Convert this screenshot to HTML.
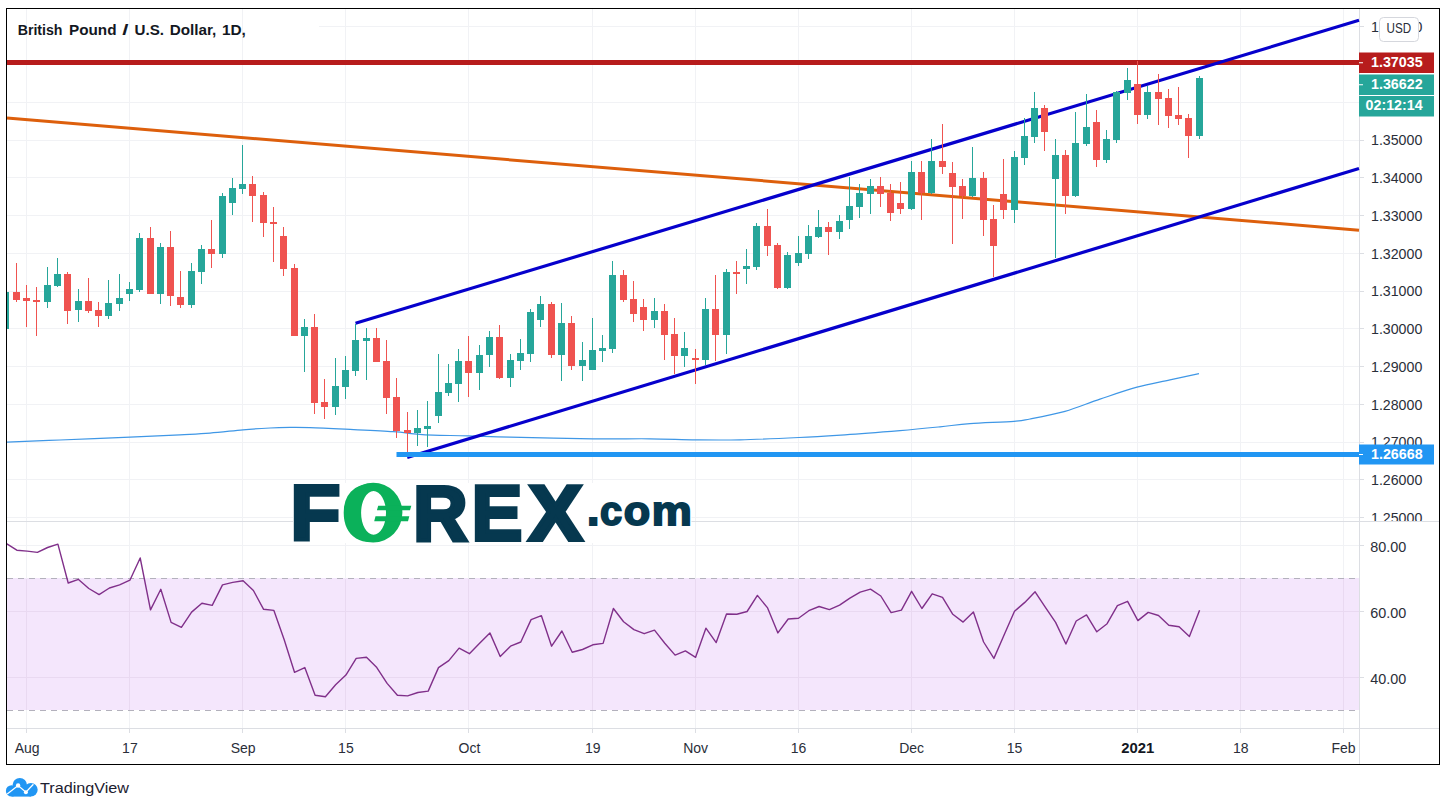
<!DOCTYPE html>
<html lang="en"><head><meta charset="utf-8"><title>GBP/USD Daily Chart</title>
<style>html,body{margin:0;padding:0;background:#fff}svg{display:block}</style></head>
<body>
<svg width="1448" height="811" viewBox="0 0 1448 811" font-family="'Liberation Sans', sans-serif">
<rect width="1448" height="811" fill="#fff"/>
<rect x="7" y="578" width="1352" height="132" fill="#f4e6fc"/>
<g fill="#f1f2f5">
<rect x="26" y="9" width="1" height="719"/>
<rect x="129" y="9" width="1" height="719"/>
<rect x="242" y="9" width="1" height="719"/>
<rect x="345" y="9" width="1" height="719"/>
<rect x="468" y="9" width="1" height="719"/>
<rect x="592" y="9" width="1" height="719"/>
<rect x="695" y="9" width="1" height="719"/>
<rect x="798" y="9" width="1" height="719"/>
<rect x="911" y="9" width="1" height="719"/>
<rect x="1014" y="9" width="1" height="719"/>
<rect x="1137" y="9" width="1" height="719"/>
<rect x="1240" y="9" width="1" height="719"/>
<rect x="1343" y="9" width="1" height="719"/>
<rect x="7" y="517" width="1352" height="1"/>
<rect x="7" y="479" width="1352" height="1"/>
<rect x="7" y="442" width="1352" height="1"/>
<rect x="7" y="404" width="1352" height="1"/>
<rect x="7" y="366" width="1352" height="1"/>
<rect x="7" y="328" width="1352" height="1"/>
<rect x="7" y="291" width="1352" height="1"/>
<rect x="7" y="253" width="1352" height="1"/>
<rect x="7" y="215" width="1352" height="1"/>
<rect x="7" y="177" width="1352" height="1"/>
<rect x="7" y="140" width="1352" height="1"/>
<rect x="7" y="102" width="1352" height="1"/>
<rect x="7" y="64" width="1352" height="1"/>
<rect x="319" y="26" width="1040" height="1"/>
<rect x="7" y="545" width="1352" height="1"/>
<rect x="7" y="611" width="1352" height="1"/>
<rect x="7" y="677" width="1352" height="1"/>
</g>
<g fill="#e9d9f1">
<rect x="26" y="579" width="1" height="131"/>
<rect x="129" y="579" width="1" height="131"/>
<rect x="242" y="579" width="1" height="131"/>
<rect x="345" y="579" width="1" height="131"/>
<rect x="468" y="579" width="1" height="131"/>
<rect x="592" y="579" width="1" height="131"/>
<rect x="695" y="579" width="1" height="131"/>
<rect x="798" y="579" width="1" height="131"/>
<rect x="911" y="579" width="1" height="131"/>
<rect x="1014" y="579" width="1" height="131"/>
<rect x="1137" y="579" width="1" height="131"/>
<rect x="1240" y="579" width="1" height="131"/>
<rect x="1343" y="579" width="1" height="131"/>
<rect x="7" y="611" width="1352" height="1"/>
<rect x="7" y="677" width="1352" height="1"/>
</g>
<rect x="7" y="521" width="1432" height="1" fill="#dcdee3"/>
<rect x="7" y="728" width="1432" height="1" fill="#dcdee3"/>
<rect x="1359" y="9" width="1" height="755" fill="#dcdee3"/>
<g fill="#dcdee3">
<rect x="26" y="729" width="1" height="4"/>
<rect x="129" y="729" width="1" height="4"/>
<rect x="242" y="729" width="1" height="4"/>
<rect x="345" y="729" width="1" height="4"/>
<rect x="468" y="729" width="1" height="4"/>
<rect x="592" y="729" width="1" height="4"/>
<rect x="695" y="729" width="1" height="4"/>
<rect x="798" y="729" width="1" height="4"/>
<rect x="911" y="729" width="1" height="4"/>
<rect x="1014" y="729" width="1" height="4"/>
<rect x="1137" y="729" width="1" height="4"/>
<rect x="1240" y="729" width="1" height="4"/>
<rect x="1343" y="729" width="1" height="4"/>
<rect x="1360" y="517" width="4" height="1"/>
<rect x="1360" y="479" width="4" height="1"/>
<rect x="1360" y="442" width="4" height="1"/>
<rect x="1360" y="404" width="4" height="1"/>
<rect x="1360" y="366" width="4" height="1"/>
<rect x="1360" y="328" width="4" height="1"/>
<rect x="1360" y="291" width="4" height="1"/>
<rect x="1360" y="253" width="4" height="1"/>
<rect x="1360" y="215" width="4" height="1"/>
<rect x="1360" y="177" width="4" height="1"/>
<rect x="1360" y="140" width="4" height="1"/>
<rect x="1360" y="102" width="4" height="1"/>
<rect x="1360" y="64" width="4" height="1"/>
<rect x="1360" y="26" width="4" height="1"/>
<rect x="1360" y="545" width="4" height="1"/>
<rect x="1360" y="611" width="4" height="1"/>
<rect x="1360" y="677" width="4" height="1"/>
</g>
<path d="M7 578.5H1359M7 710.5H1359" stroke="#b3b1bc" stroke-width="1" stroke-dasharray="6 5" fill="none"/>
<path fill="none" stroke="#3f97e6" stroke-width="1.2" d="M7,442.1C15.8,441.8 39.5,440.8 60,440C80.5,439.2 110.0,438.0 130,437.1C150.0,436.2 166.7,435.5 180,434.8C193.3,434.1 199.5,433.9 210,433.1C220.5,432.3 233.0,430.7 243,429.8C253.0,428.9 262.2,428.4 270,428C277.8,427.6 283.3,427.5 290,427.4C296.7,427.3 300.8,427.3 310,427.6C319.2,427.9 331.2,428.5 345,429.2C358.8,429.9 381.5,430.9 393,431.7C404.5,432.5 407.3,433.2 414,433.8C420.7,434.4 424.0,434.8 433,435.1C442.0,435.5 455.2,435.5 468,435.9C480.8,436.2 489.2,436.7 510,437.2C530.8,437.7 569.7,438.5 593,438.8C616.3,439.1 632.8,438.6 650,438.8C667.2,439.0 681.0,439.6 696,439.8C711.0,440.0 722.8,440.2 740,439.8C757.2,439.4 781.5,438.3 799,437.5C816.5,436.7 828.2,435.9 845,434.8C861.8,433.7 884.2,431.9 900,430.6C915.8,429.3 928.3,428.0 940,426.8C951.7,425.6 957.7,424.5 970,423.6C982.3,422.7 1004.0,422.1 1014,421.3C1024.0,420.5 1021.5,420.6 1030,419C1038.5,417.4 1053.3,414.7 1065,411.4C1076.7,408.1 1088.0,403.1 1100,399.1C1112.0,395.1 1125.3,390.4 1137,387.2C1148.7,384.0 1159.7,382.2 1170,379.9C1180.3,377.6 1194.2,374.7 1199,373.6"/>
<line x1="7" y1="62.5" x2="1359" y2="62.5" stroke="#b71c1c" stroke-width="5"/>
<line x1="7" y1="118.1" x2="1359" y2="230.2" stroke="#dd5f0c" stroke-width="3"/>
<line x1="355.5" y1="323.2" x2="1359" y2="20.3" stroke="#0600cc" stroke-width="3.2"/>
<line x1="407.2" y1="457.5" x2="1359" y2="168.5" stroke="#0600cc" stroke-width="3.2"/>
<line x1="396.5" y1="454.5" x2="1359" y2="454.5" stroke="#2196f3" stroke-width="5"/>
<rect x="7" y="292" width="2" height="37" fill="#26a69a"/>
<rect x="16" y="263" width="1" height="39" fill="#ef5350"/>
<rect x="13" y="292" width="7" height="8" fill="#ef5350"/>
<rect x="26" y="285" width="1" height="42" fill="#ef5350"/>
<rect x="23" y="298" width="7" height="3" fill="#ef5350"/>
<rect x="36" y="287" width="1" height="49" fill="#ef5350"/>
<rect x="33" y="300" width="7" height="2" fill="#ef5350"/>
<rect x="47" y="267" width="1" height="41" fill="#26a69a"/>
<rect x="44" y="285" width="7" height="17" fill="#26a69a"/>
<rect x="57" y="258" width="1" height="29" fill="#26a69a"/>
<rect x="54" y="274" width="7" height="12" fill="#26a69a"/>
<rect x="67" y="272" width="1" height="52" fill="#ef5350"/>
<rect x="64" y="274" width="7" height="37" fill="#ef5350"/>
<rect x="78" y="289" width="1" height="33" fill="#26a69a"/>
<rect x="75" y="301" width="7" height="9" fill="#26a69a"/>
<rect x="88" y="278" width="1" height="35" fill="#ef5350"/>
<rect x="85" y="301" width="7" height="10" fill="#ef5350"/>
<rect x="98" y="302" width="1" height="25" fill="#ef5350"/>
<rect x="95" y="310" width="7" height="6" fill="#ef5350"/>
<rect x="108" y="280" width="1" height="39" fill="#26a69a"/>
<rect x="105" y="303" width="7" height="13" fill="#26a69a"/>
<rect x="119" y="274" width="1" height="37" fill="#26a69a"/>
<rect x="116" y="298" width="7" height="6" fill="#26a69a"/>
<rect x="129" y="282" width="1" height="19" fill="#26a69a"/>
<rect x="126" y="289" width="7" height="5" fill="#26a69a"/>
<rect x="139" y="233" width="1" height="59" fill="#26a69a"/>
<rect x="136" y="238" width="7" height="52" fill="#26a69a"/>
<rect x="150" y="227" width="1" height="67" fill="#ef5350"/>
<rect x="147" y="238" width="7" height="56" fill="#ef5350"/>
<rect x="160" y="243" width="1" height="61" fill="#26a69a"/>
<rect x="157" y="247" width="7" height="47" fill="#26a69a"/>
<rect x="170" y="231" width="1" height="75" fill="#ef5350"/>
<rect x="167" y="247" width="7" height="49" fill="#ef5350"/>
<rect x="180" y="271" width="1" height="37" fill="#ef5350"/>
<rect x="177" y="297" width="7" height="8" fill="#ef5350"/>
<rect x="191" y="263" width="1" height="45" fill="#26a69a"/>
<rect x="188" y="271" width="7" height="34" fill="#26a69a"/>
<rect x="201" y="245" width="1" height="39" fill="#26a69a"/>
<rect x="198" y="249" width="7" height="23" fill="#26a69a"/>
<rect x="211" y="220" width="1" height="48" fill="#ef5350"/>
<rect x="208" y="249" width="7" height="5" fill="#ef5350"/>
<rect x="222" y="193" width="1" height="65" fill="#26a69a"/>
<rect x="219" y="196" width="7" height="58" fill="#26a69a"/>
<rect x="232" y="178" width="1" height="37" fill="#26a69a"/>
<rect x="229" y="188" width="7" height="15" fill="#26a69a"/>
<rect x="242" y="145" width="1" height="49" fill="#26a69a"/>
<rect x="239" y="184" width="7" height="5" fill="#26a69a"/>
<rect x="252" y="176" width="1" height="46" fill="#ef5350"/>
<rect x="249" y="184" width="7" height="12" fill="#ef5350"/>
<rect x="263" y="192" width="1" height="45" fill="#ef5350"/>
<rect x="260" y="195" width="7" height="28" fill="#ef5350"/>
<rect x="273" y="207" width="1" height="55" fill="#ef5350"/>
<rect x="270" y="222" width="7" height="2" fill="#ef5350"/>
<rect x="283" y="227" width="1" height="49" fill="#ef5350"/>
<rect x="280" y="236" width="7" height="33" fill="#ef5350"/>
<rect x="294" y="264" width="1" height="72" fill="#ef5350"/>
<rect x="291" y="268" width="7" height="68" fill="#ef5350"/>
<rect x="304" y="319" width="1" height="53" fill="#26a69a"/>
<rect x="301" y="327" width="7" height="9" fill="#26a69a"/>
<rect x="314" y="314" width="1" height="100" fill="#ef5350"/>
<rect x="311" y="327" width="7" height="76" fill="#ef5350"/>
<rect x="324" y="379" width="1" height="40" fill="#ef5350"/>
<rect x="321" y="402" width="7" height="5" fill="#ef5350"/>
<rect x="335" y="358" width="1" height="57" fill="#26a69a"/>
<rect x="332" y="386" width="7" height="21" fill="#26a69a"/>
<rect x="345" y="356" width="1" height="43" fill="#26a69a"/>
<rect x="342" y="370" width="7" height="17" fill="#26a69a"/>
<rect x="355" y="324" width="1" height="52" fill="#26a69a"/>
<rect x="352" y="340" width="7" height="31" fill="#26a69a"/>
<rect x="366" y="328" width="1" height="52" fill="#26a69a"/>
<rect x="363" y="338" width="7" height="3" fill="#26a69a"/>
<rect x="376" y="328" width="1" height="34" fill="#ef5350"/>
<rect x="373" y="338" width="7" height="24" fill="#ef5350"/>
<rect x="386" y="340" width="1" height="74" fill="#ef5350"/>
<rect x="383" y="361" width="7" height="37" fill="#ef5350"/>
<rect x="396" y="378" width="1" height="60" fill="#ef5350"/>
<rect x="393" y="397" width="7" height="34" fill="#ef5350"/>
<rect x="407" y="412" width="1" height="40" fill="#ef5350"/>
<rect x="404" y="430" width="7" height="3" fill="#ef5350"/>
<rect x="417" y="410" width="1" height="36" fill="#26a69a"/>
<rect x="414" y="428" width="7" height="5" fill="#26a69a"/>
<rect x="427" y="401" width="1" height="46" fill="#26a69a"/>
<rect x="424" y="426" width="7" height="3" fill="#26a69a"/>
<rect x="438" y="354" width="1" height="69" fill="#26a69a"/>
<rect x="435" y="392" width="7" height="24" fill="#26a69a"/>
<rect x="448" y="364" width="1" height="32" fill="#26a69a"/>
<rect x="445" y="383" width="7" height="10" fill="#26a69a"/>
<rect x="458" y="349" width="1" height="53" fill="#26a69a"/>
<rect x="455" y="361" width="7" height="23" fill="#26a69a"/>
<rect x="468" y="336" width="1" height="61" fill="#ef5350"/>
<rect x="465" y="361" width="7" height="12" fill="#ef5350"/>
<rect x="479" y="345" width="1" height="45" fill="#26a69a"/>
<rect x="476" y="355" width="7" height="18" fill="#26a69a"/>
<rect x="489" y="331" width="1" height="36" fill="#26a69a"/>
<rect x="486" y="337" width="7" height="18" fill="#26a69a"/>
<rect x="499" y="325" width="1" height="54" fill="#ef5350"/>
<rect x="496" y="337" width="7" height="41" fill="#ef5350"/>
<rect x="510" y="354" width="1" height="33" fill="#26a69a"/>
<rect x="507" y="360" width="7" height="18" fill="#26a69a"/>
<rect x="520" y="339" width="1" height="31" fill="#26a69a"/>
<rect x="517" y="353" width="7" height="8" fill="#26a69a"/>
<rect x="530" y="309" width="1" height="53" fill="#26a69a"/>
<rect x="527" y="312" width="7" height="42" fill="#26a69a"/>
<rect x="540" y="296" width="1" height="31" fill="#26a69a"/>
<rect x="537" y="304" width="7" height="16" fill="#26a69a"/>
<rect x="551" y="302" width="1" height="56" fill="#ef5350"/>
<rect x="548" y="304" width="7" height="51" fill="#ef5350"/>
<rect x="561" y="303" width="1" height="78" fill="#26a69a"/>
<rect x="558" y="323" width="7" height="32" fill="#26a69a"/>
<rect x="571" y="316" width="1" height="54" fill="#ef5350"/>
<rect x="568" y="323" width="7" height="43" fill="#ef5350"/>
<rect x="582" y="342" width="1" height="39" fill="#26a69a"/>
<rect x="579" y="360" width="7" height="6" fill="#26a69a"/>
<rect x="592" y="318" width="1" height="52" fill="#26a69a"/>
<rect x="589" y="350" width="7" height="20" fill="#26a69a"/>
<rect x="602" y="335" width="1" height="27" fill="#26a69a"/>
<rect x="599" y="348" width="7" height="3" fill="#26a69a"/>
<rect x="612" y="261" width="1" height="92" fill="#26a69a"/>
<rect x="609" y="275" width="7" height="74" fill="#26a69a"/>
<rect x="623" y="270" width="1" height="32" fill="#ef5350"/>
<rect x="620" y="275" width="7" height="25" fill="#ef5350"/>
<rect x="633" y="281" width="1" height="41" fill="#ef5350"/>
<rect x="630" y="299" width="7" height="15" fill="#ef5350"/>
<rect x="643" y="299" width="1" height="32" fill="#ef5350"/>
<rect x="640" y="307" width="7" height="13" fill="#ef5350"/>
<rect x="654" y="298" width="1" height="30" fill="#26a69a"/>
<rect x="651" y="311" width="7" height="9" fill="#26a69a"/>
<rect x="664" y="304" width="1" height="56" fill="#ef5350"/>
<rect x="661" y="311" width="7" height="24" fill="#ef5350"/>
<rect x="674" y="318" width="1" height="56" fill="#ef5350"/>
<rect x="671" y="334" width="7" height="22" fill="#ef5350"/>
<rect x="684" y="332" width="1" height="35" fill="#26a69a"/>
<rect x="681" y="348" width="7" height="8" fill="#26a69a"/>
<rect x="695" y="349" width="1" height="35" fill="#ef5350"/>
<rect x="692" y="358" width="7" height="2" fill="#ef5350"/>
<rect x="705" y="298" width="1" height="67" fill="#26a69a"/>
<rect x="702" y="309" width="7" height="51" fill="#26a69a"/>
<rect x="715" y="275" width="1" height="86" fill="#ef5350"/>
<rect x="712" y="309" width="7" height="26" fill="#ef5350"/>
<rect x="726" y="269" width="1" height="85" fill="#26a69a"/>
<rect x="723" y="272" width="7" height="63" fill="#26a69a"/>
<rect x="736" y="261" width="1" height="33" fill="#ef5350"/>
<rect x="733" y="272" width="7" height="2" fill="#ef5350"/>
<rect x="746" y="249" width="1" height="35" fill="#26a69a"/>
<rect x="743" y="266" width="7" height="3" fill="#26a69a"/>
<rect x="756" y="223" width="1" height="47" fill="#26a69a"/>
<rect x="753" y="226" width="7" height="41" fill="#26a69a"/>
<rect x="767" y="209" width="1" height="47" fill="#ef5350"/>
<rect x="764" y="226" width="7" height="20" fill="#ef5350"/>
<rect x="777" y="243" width="1" height="46" fill="#ef5350"/>
<rect x="774" y="245" width="7" height="43" fill="#ef5350"/>
<rect x="787" y="252" width="1" height="37" fill="#26a69a"/>
<rect x="784" y="255" width="7" height="33" fill="#26a69a"/>
<rect x="798" y="236" width="1" height="30" fill="#26a69a"/>
<rect x="795" y="253" width="7" height="10" fill="#26a69a"/>
<rect x="808" y="225" width="1" height="34" fill="#26a69a"/>
<rect x="805" y="236" width="7" height="18" fill="#26a69a"/>
<rect x="818" y="210" width="1" height="28" fill="#26a69a"/>
<rect x="815" y="227" width="7" height="10" fill="#26a69a"/>
<rect x="828" y="222" width="1" height="33" fill="#ef5350"/>
<rect x="825" y="227" width="7" height="5" fill="#ef5350"/>
<rect x="839" y="215" width="1" height="24" fill="#26a69a"/>
<rect x="836" y="221" width="7" height="11" fill="#26a69a"/>
<rect x="849" y="177" width="1" height="52" fill="#26a69a"/>
<rect x="846" y="206" width="7" height="14" fill="#26a69a"/>
<rect x="859" y="184" width="1" height="34" fill="#26a69a"/>
<rect x="856" y="193" width="7" height="14" fill="#26a69a"/>
<rect x="870" y="179" width="1" height="35" fill="#26a69a"/>
<rect x="867" y="186" width="7" height="8" fill="#26a69a"/>
<rect x="880" y="177" width="1" height="30" fill="#ef5350"/>
<rect x="877" y="186" width="7" height="8" fill="#ef5350"/>
<rect x="890" y="184" width="1" height="37" fill="#ef5350"/>
<rect x="887" y="193" width="7" height="20" fill="#ef5350"/>
<rect x="900" y="182" width="1" height="32" fill="#ef5350"/>
<rect x="897" y="203" width="7" height="6" fill="#ef5350"/>
<rect x="911" y="161" width="1" height="49" fill="#26a69a"/>
<rect x="908" y="172" width="7" height="37" fill="#26a69a"/>
<rect x="921" y="161" width="1" height="59" fill="#ef5350"/>
<rect x="918" y="172" width="7" height="21" fill="#ef5350"/>
<rect x="931" y="139" width="1" height="55" fill="#26a69a"/>
<rect x="928" y="161" width="7" height="32" fill="#26a69a"/>
<rect x="942" y="124" width="1" height="50" fill="#ef5350"/>
<rect x="939" y="161" width="7" height="6" fill="#ef5350"/>
<rect x="952" y="162" width="1" height="82" fill="#ef5350"/>
<rect x="949" y="173" width="7" height="14" fill="#ef5350"/>
<rect x="962" y="179" width="1" height="40" fill="#ef5350"/>
<rect x="959" y="186" width="7" height="10" fill="#ef5350"/>
<rect x="972" y="147" width="1" height="50" fill="#26a69a"/>
<rect x="969" y="178" width="7" height="18" fill="#26a69a"/>
<rect x="983" y="172" width="1" height="64" fill="#ef5350"/>
<rect x="980" y="178" width="7" height="42" fill="#ef5350"/>
<rect x="993" y="205" width="1" height="72" fill="#ef5350"/>
<rect x="990" y="219" width="7" height="27" fill="#ef5350"/>
<rect x="1003" y="159" width="1" height="60" fill="#ef5350"/>
<rect x="1000" y="194" width="7" height="16" fill="#ef5350"/>
<rect x="1014" y="151" width="1" height="72" fill="#26a69a"/>
<rect x="1011" y="157" width="7" height="53" fill="#26a69a"/>
<rect x="1024" y="118" width="1" height="47" fill="#26a69a"/>
<rect x="1021" y="136" width="7" height="22" fill="#26a69a"/>
<rect x="1034" y="92" width="1" height="51" fill="#26a69a"/>
<rect x="1031" y="108" width="7" height="29" fill="#26a69a"/>
<rect x="1044" y="105" width="1" height="46" fill="#ef5350"/>
<rect x="1041" y="108" width="7" height="24" fill="#ef5350"/>
<rect x="1055" y="139" width="1" height="119" fill="#26a69a"/>
<rect x="1052" y="155" width="7" height="24" fill="#26a69a"/>
<rect x="1065" y="150" width="1" height="64" fill="#ef5350"/>
<rect x="1062" y="155" width="7" height="41" fill="#ef5350"/>
<rect x="1075" y="112" width="1" height="85" fill="#26a69a"/>
<rect x="1072" y="143" width="7" height="53" fill="#26a69a"/>
<rect x="1086" y="94" width="1" height="52" fill="#26a69a"/>
<rect x="1083" y="127" width="7" height="17" fill="#26a69a"/>
<rect x="1096" y="110" width="1" height="57" fill="#ef5350"/>
<rect x="1093" y="122" width="7" height="38" fill="#ef5350"/>
<rect x="1106" y="130" width="1" height="33" fill="#26a69a"/>
<rect x="1103" y="139" width="7" height="21" fill="#26a69a"/>
<rect x="1116" y="91" width="1" height="52" fill="#26a69a"/>
<rect x="1113" y="92" width="7" height="48" fill="#26a69a"/>
<rect x="1127" y="68" width="1" height="32" fill="#26a69a"/>
<rect x="1124" y="80" width="7" height="13" fill="#26a69a"/>
<rect x="1137" y="61" width="1" height="63" fill="#ef5350"/>
<rect x="1134" y="84" width="7" height="31" fill="#ef5350"/>
<rect x="1147" y="86" width="1" height="33" fill="#26a69a"/>
<rect x="1144" y="92" width="7" height="23" fill="#26a69a"/>
<rect x="1158" y="74" width="1" height="51" fill="#ef5350"/>
<rect x="1155" y="92" width="7" height="7" fill="#ef5350"/>
<rect x="1168" y="89" width="1" height="39" fill="#ef5350"/>
<rect x="1165" y="98" width="7" height="18" fill="#ef5350"/>
<rect x="1178" y="87" width="1" height="38" fill="#ef5350"/>
<rect x="1175" y="115" width="7" height="4" fill="#ef5350"/>
<rect x="1188" y="114" width="1" height="44" fill="#ef5350"/>
<rect x="1185" y="118" width="7" height="18" fill="#ef5350"/>
<rect x="1199" y="76" width="1" height="63" fill="#26a69a"/>
<rect x="1196" y="78" width="7" height="58" fill="#26a69a"/>
<polyline fill="none" stroke="#80308a" stroke-width="1.4" stroke-linejoin="round" points="6.5,543.6 16.8,550.2 27.1,551.1 37.4,552.4 47.6,547.5 57.9,544.1 68.2,583 78.5,579.4 88.8,588.5 99.1,594.6 109.4,588 119.6,584.9 129.9,580.2 140.2,558 150.5,609.9 160.8,589.3 171.1,622.4 181.4,627.3 191.6,612.1 201.9,603.2 212.2,605.4 222.5,584.9 232.8,582.4 243.1,580.7 253.4,590.5 263.6,609.3 273.9,610.4 284.2,639.8 294.5,672.3 304.8,667.6 315.1,695.3 325.4,696.7 335.6,684.8 345.9,675.1 356.2,658.4 366.5,657.3 376.8,667.6 387.1,683.4 397.4,695.3 407.6,695.9 417.9,692.5 428.2,691.1 438.5,667.6 448.8,660.6 459.1,648.1 469.4,653.7 479.6,643.2 489.9,632.9 500.2,656.5 510.5,646.2 520.8,642 531.1,619.6 541.4,615.7 551.6,646.2 561.9,631 572.2,652.3 582.5,649.5 592.8,644.8 603.1,643.4 613.4,608.5 623.6,621.8 633.9,629.6 644.2,633.7 654.5,630.1 664.8,643.2 675.1,655.1 685.4,650.9 695.6,657.3 705.9,628.2 716.2,642.6 726.5,614 736.8,614.3 747.1,611.5 757.4,595.4 767.6,607.9 777.9,632.9 788.2,619 798.5,618.2 808.8,610.7 819.1,606.5 829.4,609.6 839.6,605.2 849.9,598.2 860.2,592.1 870.5,589.1 880.8,596 891.1,612.6 901.4,610.1 911.6,591.3 921.9,608.5 932.2,593.8 942.5,597.4 952.8,614.3 963.1,622.1 973.4,612.1 983.6,642 993.9,658.4 1004.2,634.8 1014.5,611.3 1024.8,602.4 1035.1,591.8 1045.4,607.4 1055.6,622.4 1065.9,644 1076.2,621 1086.5,614.9 1096.8,631.8 1107.1,623.7 1117.4,605.7 1127.6,601.3 1137.9,620.6 1148.2,612.4 1158.5,615.5 1168.8,625.2 1179.1,626.8 1189.4,636.6 1199.6,610.3"/>
<g font-size="14" fill="#2a2e39">
<clipPath id="cp"><rect x="1360" y="9" width="79" height="512"/></clipPath>
<g clip-path="url(#cp)">
<text x="1371" y="522.9" textLength="51.3" lengthAdjust="spacingAndGlyphs">1.25000</text>
<text x="1371" y="485.2" textLength="51.3" lengthAdjust="spacingAndGlyphs">1.26000</text>
<text x="1371" y="447.4" textLength="51.3" lengthAdjust="spacingAndGlyphs">1.27000</text>
<text x="1371" y="409.7" textLength="51.3" lengthAdjust="spacingAndGlyphs">1.28000</text>
<text x="1371" y="371.9" textLength="51.3" lengthAdjust="spacingAndGlyphs">1.29000</text>
<text x="1371" y="334.2" textLength="51.3" lengthAdjust="spacingAndGlyphs">1.30000</text>
<text x="1371" y="296.4" textLength="51.3" lengthAdjust="spacingAndGlyphs">1.31000</text>
<text x="1371" y="258.7" textLength="51.3" lengthAdjust="spacingAndGlyphs">1.32000</text>
<text x="1371" y="220.9" textLength="51.3" lengthAdjust="spacingAndGlyphs">1.33000</text>
<text x="1371" y="183.2" textLength="51.3" lengthAdjust="spacingAndGlyphs">1.34000</text>
<text x="1371" y="145.4" textLength="51.3" lengthAdjust="spacingAndGlyphs">1.35000</text>
<text x="1371" y="107.7" textLength="51.3" lengthAdjust="spacingAndGlyphs">1.36000</text>
<text x="1371" y="69.9" textLength="51.3" lengthAdjust="spacingAndGlyphs">1.37000</text>
<text x="1371" y="32.2" textLength="51.3" lengthAdjust="spacingAndGlyphs">1.38000</text>
</g>
<text x="1370.3" y="552.2" textLength="36" lengthAdjust="spacingAndGlyphs">80.00</text>
<text x="1370.3" y="618.2" textLength="36" lengthAdjust="spacingAndGlyphs">60.00</text>
<text x="1370.3" y="684.1" textLength="36" lengthAdjust="spacingAndGlyphs">40.00</text>
<text x="27.1" y="753" text-anchor="middle">Aug</text>
<text x="129.9" y="753" text-anchor="middle">17</text>
<text x="243.1" y="753" text-anchor="middle">Sep</text>
<text x="345.9" y="753" text-anchor="middle">15</text>
<text x="469.4" y="753" text-anchor="middle">Oct</text>
<text x="592.8" y="753" text-anchor="middle">19</text>
<text x="695.6" y="753" text-anchor="middle">Nov</text>
<text x="798.5" y="753" text-anchor="middle">16</text>
<text x="911.6" y="753" text-anchor="middle">Dec</text>
<text x="1014.5" y="753" text-anchor="middle">15</text>
<text x="1121.3" y="753" font-weight="bold" fill="#131722" textLength="33" lengthAdjust="spacingAndGlyphs">2021</text>
<text x="1240.8" y="753" text-anchor="middle">18</text>
<text x="1343.6" y="753" text-anchor="middle">Feb</text>
</g>
<rect x="1379.5" y="17.5" width="39" height="24" rx="4" fill="#fff" stroke="#d5d7dd"/>
<text x="1386.5" y="33.4" font-size="14" fill="#2a2e39" textLength="24.6" lengthAdjust="spacingAndGlyphs">USD</text>
<rect x="1359" y="52.5" width="75" height="20.5" fill="#b71c1c"/>
<rect x="1359" y="62.25" width="4" height="1" fill="#fff"/>
<text x="1371" y="66.75" font-size="14" font-weight="bold" fill="#fff" textLength="51.6" lengthAdjust="spacingAndGlyphs">1.37035</text>
<rect x="1359" y="74.5" width="75" height="20.5" fill="#26a69a"/>
<rect x="1359" y="84.25" width="4" height="1" fill="#fff"/>
<text x="1371" y="88.75" font-size="14" font-weight="bold" fill="#fff" textLength="51.6" lengthAdjust="spacingAndGlyphs">1.36622</text>
<rect x="1359" y="96" width="75" height="20.5" fill="#26a69a"/>
<text x="1365.6" y="110.25" font-size="14" font-weight="bold" fill="#fff" textLength="57" lengthAdjust="spacingAndGlyphs">02:12:14</text>
<rect x="1359" y="444.5" width="75" height="20" fill="#2196f3"/>
<rect x="1359" y="454.0" width="4" height="1" fill="#fff"/>
<text x="1371" y="458.5" font-size="14" font-weight="bold" fill="#fff" textLength="51.6" lengthAdjust="spacingAndGlyphs">1.26668</text>
<text y="34.5" font-size="14" font-weight="bold" fill="#131722"><tspan x="17.7" textLength="44.8" lengthAdjust="spacingAndGlyphs">British</tspan> <tspan x="69" textLength="47.5" lengthAdjust="spacingAndGlyphs">Pound</tspan> <tspan x="122.3" textLength="6.2" lengthAdjust="spacingAndGlyphs">/</tspan> <tspan x="134.6" textLength="29.5" lengthAdjust="spacingAndGlyphs">U.S.</tspan> <tspan x="169.7" textLength="46.6" lengthAdjust="spacingAndGlyphs">Dollar,</tspan> <tspan x="221.9" textLength="23.9" lengthAdjust="spacingAndGlyphs">1D,</tspan> </text>
<rect x="293" y="483" width="398.5" height="60" fill="#fff"/>
<text transform="translate(290.56,539.56) scale(1.0188,0.9729)" font-size="80" font-weight="bold" fill="#06384f" stroke="#06384f" stroke-width="4.2">F</text>
<text transform="translate(340.1,541.0) scale(0.985,1.02)" font-size="80" fill="#0bb15a">O</text>
<path fill-rule="evenodd" fill="#0bb15a" d="M344 512.55a29.2 29.85 0 1 0 58.4 0a29.2 29.85 0 1 0 -58.4 0ZM361.1 512.85a12.45 21.85 0 1 0 24.9 0a12.45 21.85 0 1 0 -24.9 0Z"/>
<path d="M378.2 505.8H411.3L410 510.3H376.9ZM375.5 516.3H409.3L408 521.2H374.2Z" fill="#0bb15a"/>
<text transform="translate(413.22,539.56) scale(0.9397,0.9729)" font-size="80" font-weight="bold" fill="#06384f" stroke="#06384f" stroke-width="4.2">R</text>
<text transform="translate(471.80,539.56) scale(0.9461,0.9729)" font-size="80" font-weight="bold" fill="#06384f" stroke="#06384f" stroke-width="4.2">E</text>
<text transform="translate(528.71,539.56) scale(1.0038,0.9729)" font-size="80" font-weight="bold" fill="#06384f" stroke="#06384f" stroke-width="4.2">X</text>
<text transform="translate(587.09,524.92) scale(1.0127,1.0485)" font-size="44" font-weight="bold" fill="#06384f" stroke="#06384f" stroke-width="2.0">.</text>
<text transform="translate(600.12,525.29) scale(0.9022,0.9368)" font-size="44" font-weight="bold" fill="#06384f" stroke="#06384f" stroke-width="2.0">c</text>
<text transform="translate(623.87,525.23) scale(0.9839,0.9340)" font-size="44" font-weight="bold" fill="#06384f" stroke="#06384f" stroke-width="2.0">o</text>
<text transform="translate(651.68,525.05) scale(1.0228,0.9163)" font-size="44" font-weight="bold" fill="#06384f" stroke="#06384f" stroke-width="2.0">m</text>
<rect x="6.5" y="8.5" width="1433" height="756" fill="none" stroke="#000" stroke-width="1"/>
<g fill="#2196f3"><circle cx="11.6" cy="790.9" r="5.7"/><circle cx="19.8" cy="785.1" r="7.2"/><circle cx="30.9" cy="789.8" r="6.8"/><rect x="11.6" y="786" width="19.3" height="10.6"/></g>
<path d="M7.2 794 L18.1 785.5 L25.9 792.2 L33.4 784.3" fill="none" stroke="#fff" stroke-width="1.3"/>
<circle cx="18.1" cy="785.5" r="2.2" fill="#fff"/><circle cx="25.9" cy="792.2" r="2" fill="#fff"/>
<text x="40" y="792.5" font-size="15" fill="#1c2030" textLength="89" lengthAdjust="spacingAndGlyphs">TradingView</text>
</svg>
</body></html>
